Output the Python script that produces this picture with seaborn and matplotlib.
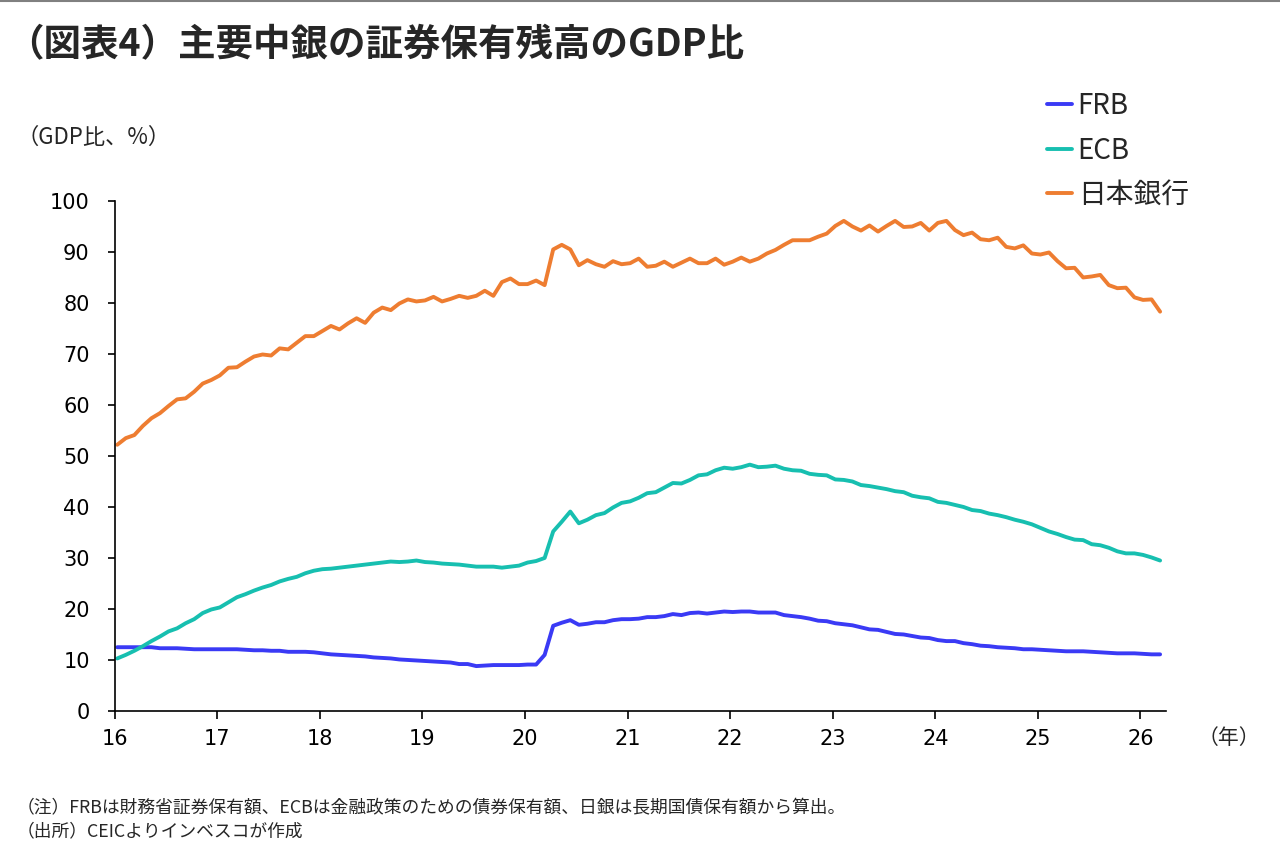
import matplotlib
matplotlib.use("Agg")
import matplotlib.pyplot as plt
import seaborn as sns
import pandas as pd
import numpy as np
from matplotlib.lines import Line2D

# monthly data, Jan 2016 - Mar 2026 (GDP ratio, %)
frb = [12.5, 12.5, 12.5, 12.5, 12.5, 12.3, 12.3, 12.3, 12.2, 12.1,
       12.1, 12.1, 12.1, 12.1, 12.1, 12.0, 11.9, 11.9, 11.8, 11.8,
       11.6, 11.6, 11.6, 11.5, 11.3, 11.1, 11.0, 10.9, 10.8, 10.7,
       10.5, 10.4, 10.3, 10.1, 10.0, 9.9, 9.8, 9.7, 9.6, 9.5,
       9.2, 9.2, 8.8, 8.9, 9.0, 9.0, 9.0, 9.0, 9.1, 9.1,
       11.0, 16.7, 17.3, 17.8, 16.9, 17.1, 17.4, 17.4, 17.8, 18.0,
       18.0, 18.1, 18.4, 18.4, 18.6, 19.0, 18.8, 19.2, 19.3, 19.1,
       19.3, 19.5, 19.4, 19.5, 19.5, 19.3, 19.3, 19.3, 18.8, 18.6,
       18.4, 18.1, 17.7, 17.6, 17.2, 17.0, 16.8, 16.4, 16.0, 15.9,
       15.5, 15.1, 15.0, 14.7, 14.4, 14.3, 13.9, 13.7, 13.7, 13.3,
       13.1, 12.8, 12.7, 12.5, 12.4, 12.3, 12.1, 12.1, 12.0, 11.9,
       11.8, 11.7, 11.7, 11.7, 11.6, 11.5, 11.4, 11.3, 11.3, 11.3,
       11.2, 11.1, 11.1]
ecb = [10.3, 11.0, 11.8, 12.7, 13.7, 14.6, 15.6, 16.2, 17.2, 18.0,
       19.2, 19.9, 20.3, 21.3, 22.3, 22.9, 23.6, 24.2, 24.7, 25.4,
       25.9, 26.3, 27.0, 27.5, 27.8, 27.9, 28.1, 28.3, 28.5, 28.7,
       28.9, 29.1, 29.3, 29.2, 29.3, 29.5, 29.2, 29.1, 28.9, 28.8,
       28.7, 28.5, 28.3, 28.3, 28.3, 28.1, 28.3, 28.5, 29.1, 29.4,
       30.0, 35.2, 37.1, 39.1, 36.8, 37.5, 38.4, 38.8, 39.9, 40.8,
       41.1, 41.8, 42.7, 42.9, 43.8, 44.7, 44.6, 45.3, 46.2, 46.4,
       47.2, 47.7, 47.5, 47.8, 48.3, 47.8, 47.9, 48.1, 47.5, 47.2,
       47.1, 46.5, 46.3, 46.2, 45.4, 45.3, 45.0, 44.3, 44.1, 43.8,
       43.5, 43.1, 42.9, 42.2, 41.9, 41.7, 41.0, 40.8, 40.4, 40.0,
       39.4, 39.2, 38.7, 38.4, 38.0, 37.5, 37.1, 36.6, 35.9, 35.2,
       34.7, 34.1, 33.6, 33.5, 32.7, 32.5, 32.0, 31.3, 30.9, 30.9,
       30.6, 30.1, 29.5]
boj = [52.2, 53.5, 54.1, 55.9, 57.4, 58.4, 59.8, 61.1, 61.3, 62.6,
       64.2, 64.9, 65.8, 67.3, 67.4, 68.5, 69.5, 69.9, 69.7, 71.1,
       70.9, 72.2, 73.5, 73.5, 74.5, 75.5, 74.8, 76.0, 77.0, 76.1,
       78.1, 79.1, 78.6, 79.9, 80.7, 80.3, 80.5, 81.2, 80.3, 80.8,
       81.4, 81.0, 81.4, 82.4, 81.4, 84.1, 84.8, 83.7, 83.7, 84.4,
       83.5, 90.5, 91.4, 90.5, 87.4, 88.4, 87.6, 87.1, 88.2, 87.6,
       87.8, 88.7, 87.1, 87.3, 88.1, 87.1, 87.9, 88.7, 87.8, 87.8,
       88.7, 87.5, 88.1, 88.9, 88.1, 88.7, 89.7, 90.4, 91.4, 92.3,
       92.3, 92.3, 93.0, 93.6, 95.1, 96.1, 95.0, 94.2, 95.2, 94.0,
       95.1, 96.1, 94.9, 95.0, 95.7, 94.2, 95.7, 96.1, 94.3, 93.3,
       93.8, 92.5, 92.3, 92.8, 91.0, 90.7, 91.3, 89.7, 89.5, 89.9,
       88.2, 86.8, 86.9, 85.0, 85.2, 85.5, 83.5, 82.9, 83.0, 81.1,
       80.6, 80.7, 78.3]
banks = ["FRB", "ECB", "日本銀行"]
colors = ["#3A3AF5", "#17BFB0", "#EE7D31"]
xticks = list(range(16, 27))

# mid-month-ish position on a year axis (16 = 2016)
months = np.arange(len(boj))
t = 16 + (months + 0.3) / 12
df = pd.concat([
    pd.DataFrame({"t": t, "value": frb, "bank": "FRB"}),
    pd.DataFrame({"t": t, "value": ecb, "bank": "ECB"}),
    pd.DataFrame({"t": t, "value": boj, "bank": "日本銀行"}),
])

sns.set_style("ticks")
plt.rcParams["font.family"] = ["Noto Sans CJK JP", "DejaVu Sans"]

fig = plt.figure(figsize=(12.8, 8.6), dpi=100)
ax = fig.add_axes([0.0896, 0.1733, 0.8214, 0.593])
sns.lineplot(data=df, x="t", y="value", hue="bank", hue_order=banks,
             palette=colors, linewidth=2.8, ax=ax)

ax.set_xlim(16, 26.25)
ax.set_ylim(0, 100)
ax.set_xticks(xticks)
ax.set_xticklabels([str(x) for x in xticks])
ax.set_yticks(range(0, 101, 10))
ax.set_xlabel("")
ax.set_ylabel("")
for s in ["top", "right"]:
    ax.spines[s].set_visible(False)
for s in ["left", "bottom"]:
    ax.spines[s].set_linewidth(1.2)
    ax.spines[s].set_color("black")
ax.tick_params(axis="y", direction="out", length=5, width=1.2, pad=13,
               labelsize=15, colors="black")
ax.tick_params(axis="x", direction="out", length=6, width=1.2, pad=7,
               labelsize=15, colors="black")
for lab in ax.get_xticklabels() + ax.get_yticklabels():
    lab.set_family("DejaVu Sans")

h, l = ax.get_legend_handles_labels()
ax.legend(h, l, loc="upper left", bbox_to_anchor=(1036 / 1280, 1 - 80 / 860),
          bbox_transform=fig.transFigure, frameon=False, fontsize=20,
          handlelength=0.9, handletextpad=0.2, labelspacing=0.52,
          borderaxespad=0)

fig.text(6 / 1280, 1 - 45 / 860, "（図表4）主要中銀の証券保有残高のGDP比",
         fontsize=27, fontweight="bold", va="center", ha="left")
fig.text(16 / 1280, 1 - 137 / 860, "（GDP比、%）", fontsize=16,
         va="center", ha="left")
fig.text(1198 / 1280, 1 - 738 / 860, "（年）", fontsize=15,
         va="center", ha="left")
fig.text(17 / 1280, 1 - 808 / 860,
         "（注）FRBは財務省証券保有額、ECBは金融政策のための債券保有額、日銀は長期国債保有額から算出。",
         fontsize=12.8, va="center", ha="left")
fig.text(17 / 1280, 1 - 831 / 860, "（出所）CEICよりインベスコが作成",
         fontsize=12.8, va="center", ha="left")
fig.add_artist(Line2D([0, 1], [0.999, 0.999], color="#808080", linewidth=1.5,
                      transform=fig.transFigure))

fig.savefig("out.png", dpi=100)
